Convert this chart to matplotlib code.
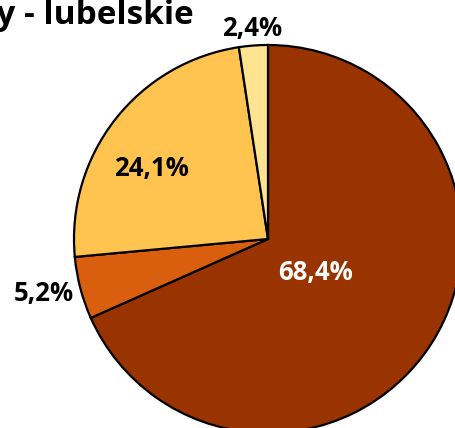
import numpy as np
import matplotlib.pyplot as plt

# udziały (%) - kolejno zgodnie z ruchem wskazówek zegara od góry
labels = ['68,4%', '5,2%', '24,1%', '2,4%']
values = [68.4, 5.2, 24.1, 2.4]
colors = ['#993300', '#D95F0E', '#FEC44F', '#FEE391']
label_colors = ['white', 'black', 'black', 'black']
label_dist = [0.30, 1.19, 0.70, 1.09]
label_shift = [-2, -1, 7, 0]  # przesunięcie kątowe etykiet (stopnie)

W, H = 456, 428
fig = plt.figure(figsize=(W / 100, H / 100), dpi=100)
ax = fig.add_axes([0, 0, 1, 1])

cx, cy, r = 268, H - 239, 194
wedges, _ = ax.pie(values, colors=colors, startangle=90, counterclock=False,
                   center=(cx, cy), radius=r, frame=True,
                   wedgeprops=dict(edgecolor='black', linewidth=1.6))
ax.set_xlim(0, W)
ax.set_ylim(0, H)
ax.set_aspect('equal')
ax.axis('off')

for w, lab, col, d, s in zip(wedges, labels, label_colors, label_dist, label_shift):
    ang = np.deg2rad((w.theta1 + w.theta2) / 2 + s)
    ax.text(cx + d * r * np.cos(ang), cy + d * r * np.sin(ang), lab,
            ha='center', va='center', fontsize=18.5, fontweight='bold',
            color=col, family='Open Sans')

ax.text(194, H - 24, 'Zakłady - lubelskie', ha='right', va='baseline',
        fontsize=24, fontweight='bold', family='Open Sans')

fig.savefig('out.png', dpi=100)
